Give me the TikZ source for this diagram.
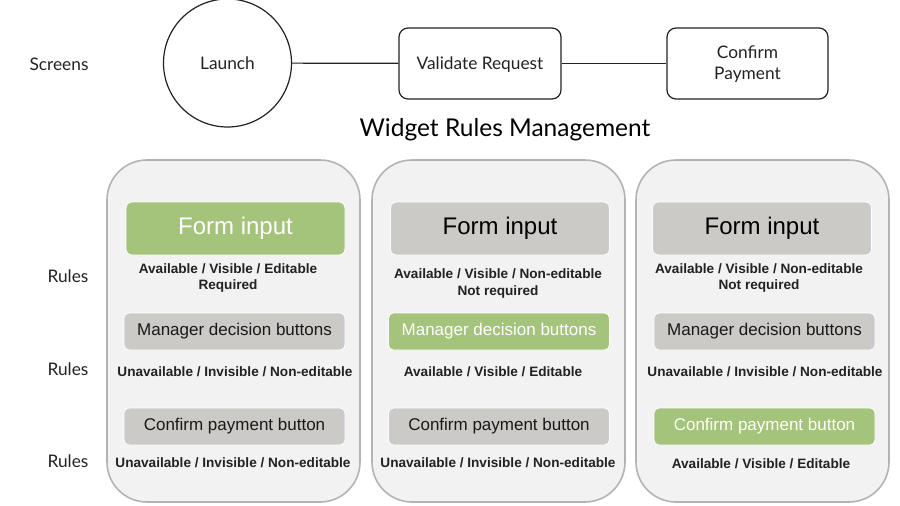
\documentclass[tikz,border=0pt]{standalone}
\usepackage{fontspec}
\setmainfont{Liberation Sans}
\newfontfamily\topfont{Lato}
\definecolor{gfill}{HTML}{A5C47B}
\definecolor{bfill}{HTML}{CCCAC6}
\definecolor{pfill}{HTML}{F3F2F3}
\definecolor{pborder}{HTML}{B3B3B3}
\definecolor{ink}{HTML}{222222}
\tikzset{
  toplabel/.style={font=\topfont\fontsize{17.3}{20}\selectfont, text=ink},
  screenbox/.style={draw=ink, line width=1.2pt, rounded corners=9pt, align=center, toplabel},
  panel/.style={draw=pborder, line width=1.6pt, fill=pfill, rounded corners=40pt, minimum width=253pt, minimum height=342pt},
  greybig/.style={fill=bfill, draw=white, line width=0.8pt, rounded corners=6pt, minimum width=219pt, minimum height=53pt, font=\fontsize{24}{28}\selectfont, text=black},
  greenbig/.style={greybig, fill=gfill, text=white},
  greysmall/.style={fill=bfill, draw=white, line width=0.8pt, rounded corners=5pt, minimum width=221pt, minimum height=37pt, font=\fontsize{17}{20}\selectfont, text=black!90},
  greensmall/.style={greysmall, fill=gfill, text=white},
  rule/.style={font=\bfseries\fontsize{13.6}{16.5}\selectfont, text=ink, align=center},
}
\begin{document}
\begin{tikzpicture}[x=1pt,y=-1pt]
\useasboundingbox (0,0) rectangle (900,506);
% screens row
\node[toplabel] (screens) at (59,64.5) {Screens};
\node[circle, draw=ink, line width=1.2pt, minimum size=128pt, toplabel] (launch) at (227.5,63) {};
\node[toplabel] (launchtxt) at (227.5,63.5) {Launch};
\node[screenbox, minimum width=162pt, minimum height=71pt] (val) at (480,63.5) {};
\node[toplabel] (valtxt) at (480,64.5) {Validate Request};
\node[screenbox, minimum width=161pt, minimum height=71pt] (conf) at (747.5,63.5) {};
\node[toplabel, align=center, font=\topfont\fontsize{17.3}{20.5}\selectfont] (conftxt) at (747.5,64) {Confirm\\Payment};
\draw[ink, line width=1.2pt] (launch) -- (val);
\draw[ink, line width=1.2pt] (val) -- (conf);
\node[font=\topfont\fontsize{24.5}{28}\selectfont, text=black] (title) at (505,129.5) {Widget Rules Management};
% rules labels
\node[toplabel] (r1) at (68,276.5) {Rules};
\node[toplabel] (r2) at (68,369.5) {Rules};
\node[toplabel] (r3) at (68,461.5) {Rules};
% panels
\node[panel] (p1) at (233.5,331) {};
\node[panel] (p2) at (498.5,331) {};
\node[panel] (p3) at (762.5,331) {};
% panel 1
\node[greenbig] (f1) at (235.5,228.5) {Form input};
\node[rule] (t11) at (228,278) {Available / Visible / Editable\\Required};
\node[greysmall] (m1) at (234.5,331.5) {Manager decision buttons};
\node[rule] (t12) at (235,372) {Unavailable / Invisible / Non-editable};
\node[greysmall] (c1) at (234.5,426.5) {Confirm payment button};
\node[rule] (t13) at (233,463) {Unavailable / Invisible / Non-editable};
% panel 2
\node[greybig] (f2) at (500,228.5) {Form input};
\node[rule] (t21) at (498,283.5) {Available / Visible / Non-editable\\Not required};
\node[greensmall] (m2) at (499,331.5) {Manager decision buttons};
\node[rule] (t22) at (493,372) {Available / Visible / Editable};
\node[greysmall] (c2) at (499,426.5) {Confirm payment button};
\node[rule] (t23) at (498,463) {Unavailable / Invisible / Non-editable};
% panel 3
\node[greybig] (f3) at (762,228.5) {Form input};
\node[rule] (t31) at (759,278) {Available / Visible / Non-editable\\Not required};
\node[greysmall] (m3) at (764.5,331.5) {Manager decision buttons};
\node[rule] (t32) at (765,372) {Unavailable / Invisible / Non-editable};
\node[greensmall] (c3) at (764.5,426.5) {Confirm payment button};
\node[rule] (t33) at (761,464) {Available / Visible / Editable};
\end{tikzpicture}
\end{document}
